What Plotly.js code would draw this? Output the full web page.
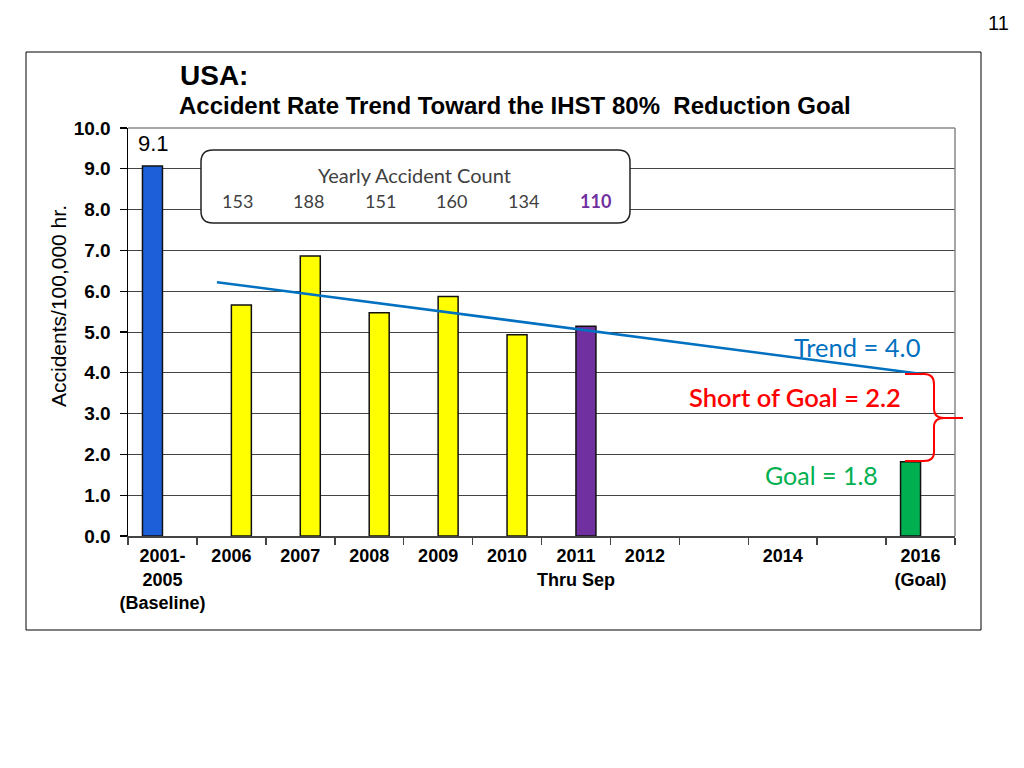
<!DOCTYPE html>
<html>
<head>
<meta charset="utf-8">
<script src="https://cdn.plot.ly/plotly-3.0.1.min.js"></script>
<style>html,body{margin:0;padding:0;background:#fff;}#chart{width:1024px;height:768px;}</style>
</head>
<body>
<div id="chart"></div>
<script>
// ---- data ----
const categories = ['2001-2005','2006','2007','2008','2009','2010','2011','2012','2013','2014','2015','2016'];
const tickLabels = ['2001-<br>2005<br>(Baseline)','2006','2007','2008','2009','2010','2011<br>Thru Sep','2012','','2014','','2016<br>(Goal)'];
const baselineGoalRate = [9.07, null, null, null, null, null, null, null, null, null, null, 1.82];
const yearlyRate = [null, 5.66, 6.86, 5.47, 5.87, 4.93, 5.14, null, null, null, null, null];
const yearlyCounts = [153, 188, 151, 160, 134, 110];
const trendX = [0.79, 11.02];
const trendY = [6.22, 3.97];
const trendValue = 4.0;
const goalValue = 1.8;
const shortOfGoal = 2.2;

// ---- layout helpers (pixel -> paper) ----
const L = 128, R = 955, T = 128, B = 536;
const px = x => (x - L) / (R - L);
const py = y => (B - y) / (B - T);
const P = (x, y) => px(x).toFixed(5) + ',' + py(y).toFixed(5);

const idx = categories.map((c, i) => i);
const boundaries = categories.map((c, i) => i - 0.5).concat([categories.length - 0.5]);

const colorsA = baselineGoalRate.map((v, i) => i === 0 ? '#1C5FD8' : '#00B050');
const colorsB = yearlyRate.map((v, i) => i === 6 ? '#7030A0' : '#FFFF00');

const traces = [
  {type: 'bar', x: idx, y: baselineGoalRate, marker: {color: colorsA, line: {color: '#111', width: 1.5}}, showlegend: false, hoverinfo: 'skip'},
  {type: 'bar', x: idx, y: yearlyRate, marker: {color: colorsB, line: {color: '#111', width: 1.5}}, showlegend: false, hoverinfo: 'skip'},
  {type: 'scatter', mode: 'lines', x: trendX, y: trendY, line: {color: '#0070C0', width: 2.5}, showlegend: false, hoverinfo: 'skip'}
];

const calibri = 'Lato, "Open Sans", sans-serif';
const arial = 'Arial, "Liberation Sans", sans-serif';

// rounded box
const bx0 = 201, bx1 = 630, by0 = 150, by1 = 223, r = 12;
const boxPath = 'M' + P(bx0 + r, by0) + ' L' + P(bx1 - r, by0) + ' Q' + P(bx1, by0) + ' ' + P(bx1, by0 + r) +
  ' L' + P(bx1, by1 - r) + ' Q' + P(bx1, by1) + ' ' + P(bx1 - r, by1) +
  ' L' + P(bx0 + r, by1) + ' Q' + P(bx0, by1) + ' ' + P(bx0, by1 - r) +
  ' L' + P(bx0, by0 + r) + ' Q' + P(bx0, by0) + ' ' + P(bx0 + r, by0) + ' Z';

// brace
const bracePath = 'M' + P(905, 374) + ' L' + P(924, 374) + ' Q' + P(934, 374) + ' ' + P(934, 384) +
  ' L' + P(934, 409) + ' Q' + P(934, 418) + ' ' + P(944, 418) + ' L' + P(963, 418) +
  ' M' + P(944, 418) + ' Q' + P(934, 418) + ' ' + P(934, 427) +
  ' L' + P(934, 452) + ' Q' + P(934, 461) + ' ' + P(924, 461) + ' L' + P(905, 461);

const shapes = [
  {type: 'rect', xref: 'paper', yref: 'paper', x0: px(26), x1: px(981), y0: py(630), y1: py(52), line: {color: '#000', width: 1}},
  {type: 'line', xref: 'paper', yref: 'paper', x0: 1, x1: 1, y0: 0, y1: 1, line: {color: '#888', width: 1.5}},
  {type: 'line', xref: 'paper', yref: 'paper', x0: 0, x1: 1, y0: 1, y1: 1, line: {color: '#888', width: 1.5}},
  {type: 'path', xref: 'paper', yref: 'paper', path: boxPath, fillcolor: '#fff', line: {color: '#222', width: 1.5}, layer: 'above'},
  {type: 'path', xref: 'paper', yref: 'paper', path: bracePath, line: {color: '#FF0000', width: 2}, layer: 'above'}
];

const countStart = 237, countStep = 71.6;
const annotations = [
  {xref: 'paper', yref: 'paper', x: px(178), y: py(75), xanchor: 'left', yanchor: 'middle', text: '<b>USA:</b>', showarrow: false, font: {family: arial, size: 28, color: '#000'}},
  {xref: 'paper', yref: 'paper', x: px(177), y: py(105), xanchor: 'left', yanchor: 'middle', text: '<b>Accident Rate Trend Toward the IHST 80%  Reduction Goal</b>', showarrow: false, font: {family: arial, size: 24, color: '#000'}},
  {xref: 'paper', yref: 'paper', x: px(998), y: py(23), xanchor: 'center', yanchor: 'middle', text: '11', showarrow: false, font: {family: arial, size: 20, color: '#000'}},
  {xref: 'paper', yref: 'paper', x: px(58), y: py(306), xanchor: 'center', yanchor: 'middle', textangle: -90, text: 'Accidents/100,000 hr.', showarrow: false, font: {family: arial, size: 21, color: '#000'}},
  {xref: 'x', yref: 'y', x: 0, xshift: -9, y: baselineGoalRate[0], yanchor: 'bottom', yshift: 8, text: baselineGoalRate[0].toFixed(1), showarrow: false, font: {family: arial, size: 22, color: '#000'}},
  {xref: 'paper', yref: 'paper', x: px(414), y: py(175), xanchor: 'center', yanchor: 'middle', text: 'Yearly Accident Count', showarrow: false, font: {family: calibri, size: 20, color: '#404040'}},
  {xref: 'paper', yref: 'paper', x: px(923), y: py(347), xanchor: 'right', yanchor: 'middle', text: 'Trend = ' + trendValue.toFixed(1), showarrow: false, font: {family: calibri, size: 25.5, color: '#0070C0'}},
  {xref: 'paper', yref: 'paper', x: px(903), y: py(397), xanchor: 'right', yanchor: 'middle', text: 'Short of Goal = ' + shortOfGoal.toFixed(1), showarrow: false, font: {family: calibri, size: 25.5, color: '#FF0000', weight: 600}},
  {xref: 'paper', yref: 'paper', x: px(880), y: py(475), xanchor: 'right', yanchor: 'middle', text: 'Goal = ' + goalValue.toFixed(1), showarrow: false, font: {family: calibri, size: 25, color: '#00B050'}}
];
yearlyCounts.forEach((c, k) => {
  const last = k === yearlyCounts.length - 1;
  annotations.push({xref: 'paper', yref: 'paper', x: px(countStart + k * countStep), y: py(201), xanchor: 'center', yanchor: 'middle',
    text: last ? '<b>' + c + '</b>' : String(c), showarrow: false,
    font: {family: calibri, size: 18, color: last ? '#7030A0' : '#404040'}});
});

const layout = {
  width: 1024, height: 768,
  margin: {l: L, r: 1024 - R, t: T, b: 768 - B, pad: 0},
  paper_bgcolor: '#fff', plot_bgcolor: '#fff',
  barmode: 'group', bargap: 0.42, bargroupgap: 0,
  showlegend: false, hovermode: false,
  xaxis: {
    type: 'linear', range: [-0.5, 11.5], tickvals: idx, ticktext: tickLabels, ticks: '',
    showgrid: false, zeroline: false, showline: true, linecolor: '#444', linewidth: 1.5,
    tickfont: {family: arial, size: 18, color: '#000', weight: 'bold'},
    ticklabelstandoff: 3,
    minor: {tickvals: boundaries, ticks: 'outside', ticklen: 7, tickcolor: '#444', tickwidth: 1.5, showgrid: false}
  },
  yaxis: {
    range: [0, 10], dtick: 1, tickformat: '.1f', ticks: 'outside', ticklen: 7, tickcolor: '#000', tickwidth: 1.2,
    showgrid: true, gridcolor: '#444', gridwidth: 1, zeroline: false, showline: true, linecolor: '#000', linewidth: 1.5,
    tickfont: {family: arial, size: 19, color: '#000', weight: 'bold'},
    ticklabelstandoff: 5
  },
  shapes: shapes,
  annotations: annotations
};

Plotly.newPlot('chart', traces, layout, {displayModeBar: false, staticPlot: true});
</script>
</body>
</html>
